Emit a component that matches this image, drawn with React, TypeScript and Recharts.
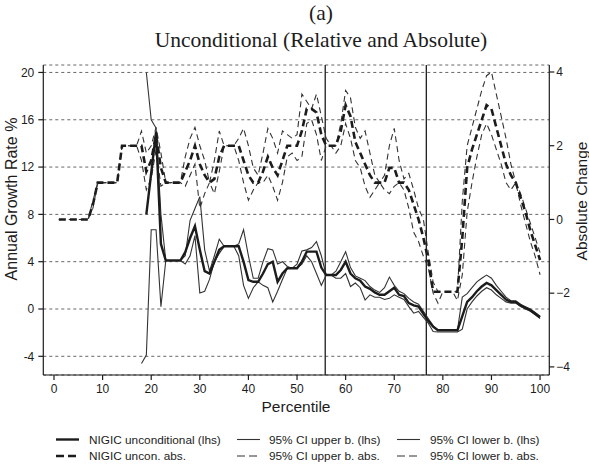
import React from 'react';
import { ComposedChart, Line, XAxis, YAxis, CartesianGrid, ReferenceLine } from 'recharts';

const percentiles = [
  1, 2, 3, 4, 5, 6, 7, 8, 9, 10,
  11, 12, 13, 14, 15, 16, 17, 18, 19, 20,
  21, 22, 23, 24, 25, 26, 27, 28, 29, 30,
  31, 32, 33, 34, 35, 36, 37, 38, 39, 40,
  41, 42, 43, 44, 45, 46, 47, 48, 49, 50,
  51, 52, 53, 54, 55, 56, 57, 58, 59, 60,
  61, 62, 63, 64, 65, 66, 67, 68, 69, 70,
  71, 72, 73, 74, 75, 76, 77, 78, 79, 80,
  81, 82, 83, 84, 85, 86, 87, 88, 89, 90,
  91, 92, 93, 94, 95, 96, 97, 98, 99, 100,
];

const N = null;

// Relative growth (left axis, %)
const nigicUncond = [
  N, N, N, N, N, N, N, N, N, N,
  N, N, N, N, N, N, N, N, 8.0, 11.5,
  15.0, 5.5, 4.1, 4.1, 4.1, 4.1, 4.8, 6.0, 7.0, 5.0,
  3.2, 3.0, 4.0, 5.0, 5.3, 5.3, 5.3, 5.3, 4.0, 2.45,
  2.3, 2.3, 3.0, 3.8, 4.0, 2.3, 3.0, 3.45, 3.45, 3.45,
  4.0, 4.85, 4.85, 4.85, 3.5, 2.87, 2.87, 2.87, 3.3, 4.0,
  3.0, 2.6, 2.4, 1.9, 1.7, 1.4, 1.2, 1.2, 1.5, 1.8,
  1.2, 1.1, 0.5, 0.3, 0.2, -0.4, -1.0, -1.5, -1.8, -1.8,
  -1.8, -1.8, -1.8, -0.6, 0.6, 1.0, 1.5, 1.9, 2.2, 2.0,
  1.6, 1.2, 0.8, 0.6, 0.6, 0.3, 0.1, -0.1, -0.4, -0.7,
];
const ciUpper = [
  N, N, N, N, N, N, N, N, N, N,
  N, N, N, N, N, N, N, N, 20, 16,
  15.3, 8.0, 4.1, 4.1, 4.1, 4.1, 4.5, 7.5, 8.5, 9.5,
  5.0, 3.2, 4.5, 5.9, 5.3, 5.3, 5.3, 5.5, 6.7, 4.5,
  2.6, 2.6, 4.0, 5.1, 5.0, 3.8, 4.0, 3.6, 3.45, 3.8,
  4.9, 5.0, 5.2, 5.7, 4.5, 2.87, 2.87, 3.2, 4.0, 4.85,
  3.5, 2.8, 2.6, 2.4, 1.9, 1.6, 1.4, 1.8, 2.7, 2.0,
  1.5, 1.3, 0.9, 0.6, 0.4, -0.2, -0.8, -1.4, -1.8, -1.8,
  -1.8, -1.8, -1.8, 1.0, 1.3, 1.8, 2.3, 2.6, 2.87, 2.6,
  2.0, 1.5, 1.0, 0.7, 0.7, 0.4, 0.2, 0.0, -0.3, -0.6,
];
const ciLower = [
  N, N, N, N, N, N, N, N, N, N,
  N, N, N, N, N, N, N, -4.6, -3.9, 6.7,
  6.7, 0.2, 4.1, 4.1, 4.1, 4.1, 3.8, 4.5, 6.2, 1.35,
  1.5, 2.5, 4.0, 4.7, 5.3, 5.3, 5.3, 4.5, 2.0, 0.9,
  1.8, 2.3, 2.0, 1.8, 0.6, 1.5, 2.5, 3.45, 3.45, 3.45,
  3.8, 4.5, 4.0, 3.0, 2.0, 2.87, 2.87, 2.6, 2.6, 3.0,
  1.9, 2.2, 1.8, 0.76, 1.2, 1.0, 1.0, 0.8, 0.9, 1.2,
  1.0, 0.8, 0.2, -0.35, -0.2, -0.7, -1.2, -1.9, -1.95, -1.95,
  -1.95, -1.95, -1.95, -1.7, 0.0, 0.6, 1.1, 1.5, 1.8, 1.6,
  1.2, 0.9, 0.6, 0.5, 0.5, 0.2, 0.0, -0.2, -0.5, -0.8,
];

// Absolute change (right axis)
const nigicAbs = [
  0, 0, 0, 0, 0, 0, 0, 0.4, 1, 1,
  1, 1, 1, 2, 2, 2, 2, 2, 1.3, 1.6,
  2.3, 1.4, 1, 1, 1, 1, 1.3, 1.6, 2.0, 1.5,
  1.2, 1.0, 1.1, 1.7, 2, 2, 2, 2, 1.6, 1.2,
  1.0, 1.0, 1.3, 1.7, 1.4, 1.2, 1.6, 2, 2, 2,
  2.4, 3.0, 3.0, 2.9, 2.3, 2, 2, 2, 2.4, 3.1,
  2.8, 2.1, 1.8, 1.5, 1.2, 1, 1, 1, 1.4, 1.4,
  1, 1, 0.8, 0.4, 0.0, -0.5, -1.1, -1.96, -1.96, -1.96,
  -1.96, -1.96, -1.96, -0.5, 1.4, 1.9, 2.3, 2.7, 3.1, 3.0,
  2.5, 2.0, 1.5, 1.2, 1.0, 0.6, 0.2, -0.3, -0.7, -1.1,
];
const ciUpperAbs = [
  0, 0, 0, 0, 0, 0, 0, 0.5, 1, 1,
  1, 1, 1, 2, 2, 2, 2, 2.4, 1.8, 2.0,
  2.5, 1.8, 1, 1, 1, 1, 1.7, 2.2, 2.5, 2.0,
  1.6, 1.0, 1.6, 2.4, 2, 2, 2, 2.2, 2.47, 2.0,
  1.4, 1.2, 1.8, 2.47, 2.2, 1.8, 2.4, 2.3, 2.2, 2.3,
  3.4, 3.2, 3.0, 3.4, 2.8, 2.2, 2.0, 2.0, 2.6, 3.5,
  3.3, 2.5, 2.2, 2.4, 1.8, 1.2, 1.0, 1.2, 2.0, 2.47,
  1.6, 1.1, 1.25, 0.8, 0.3, 0.0, -0.9, -1.7, -1.96, -1.96,
  -1.96, -1.96, -1.96, 0.5, 2.0, 2.5, 3.0, 3.5, 3.9, 4.0,
  3.4, 2.8, 2.2, 1.5, 1.0, 0.7, 0.3, -0.1, -0.5, -0.9,
];
const ciLowerAbs = [
  0, 0, 0, 0, 0, 0, 0, 0.3, 1, 1,
  1, 1, 1, 2, 2, 2, 2, 1.6, 0.8, 1.1,
  1.9, 0.9, 1, 1, 1, 1, 0.9, 1.2, 1.5, 0.3,
  0.7, 1.0, 0.7, 1.3, 2, 2, 2, 1.6, 1.0, 0.52,
  0.8, 1.0, 1.0, 1.2, 0.9, 0.52, 1.0, 1.7, 1.8, 1.6,
  1.7, 2.6, 2.7, 2.3, 1.6, 2.0, 2.0, 1.8, 2.0, 2.6,
  2.2, 1.6, 1.4, 0.9, 0.6, 0.8, 1.0, 0.8, 0.7, 0.9,
  1.0, 0.8, 0.3, -0.35, -0.6, -1.0, -1.3, -2.0, -2.27, -1.96,
  -1.96, -1.96, -2.2, -1.5, 0.2, 1.0, 1.7, 2.3, 2.6, 2.3,
  1.9, 1.5, 1.0, 0.8, 1.0, 0.4, -0.1, -0.6, -1.0, -1.5,
];

const xTicks = [0, 10, 20, 30, 40, 50, 60, 70, 80, 90, 100];
const leftTicks = [-4, 0, 4, 8, 12, 16, 20];
const rightTicks = [-4, -2, 0, 2, 4];
const dividers = [55.8, 76.6];

const legendRow1 = ['NIGIC unconditional (lhs)', '95% CI upper b. (lhs)', '95% CI lower b. (lhs)'];
const legendRow2 = ['NIGIC uncon. abs.', '95% CI upper b. abs.', '95% CI lower b. abs.'];

const data = percentiles.map((p, i) => ({
  p,
  main: nigicUncond[i],
  up: ciUpper[i],
  lo: ciLower[i],
  mainAbs: nigicAbs[i],
  upAbs: ciUpperAbs[i],
  loAbs: ciLowerAbs[i],
}));

const SANS = '"Liberation Sans", Arial, sans-serif';
const SERIF = '"Liberation Serif", "Times New Roman", serif';
const INK = '#1c1c1c';

const lineStyles = [
  { w: 2.4, dash: undefined as string | undefined },
  { w: 1.1, dash: undefined as string | undefined },
  { w: 1.1, dash: undefined as string | undefined },
];
const dashStyles = [
  { w: 2.6, dash: '7 4' },
  { w: 1.1, dash: '6 4' },
  { w: 1.1, dash: '6 4' },
];

const colLineX = [56, 237, 397];
const colTextX = [89, 269, 430];

export default function App() {
  return (
    <div style={{ position: 'absolute', left: 0, top: 0, width: 589, height: 468, background: '#fff' }}>
      <ComposedChart
        width={589}
        height={468}
        data={data}
        margin={{ top: 65, right: 0, bottom: 63, left: 0 }}
      >
        <CartesianGrid
          yAxisId="left"
          vertical={false}
          horizontal
          stroke="#555"
          strokeWidth={0.9}
          strokeDasharray="3 3"
        />
        <XAxis
          dataKey="p"
          type="number"
          domain={[-2.2, 101.9]}
          allowDataOverflow
          ticks={xTicks}
          height={30}
          tickSize={5}
          tickMargin={4}
          stroke={INK}
          strokeWidth={1.2}
          tick={{ fill: INK, fontSize: 12, fontFamily: SANS }}
        />
        <YAxis
          yAxisId="left"
          domain={[-5.58, 20.63]}
          allowDataOverflow
          ticks={leftTicks}
          width={43.3}
          tickSize={5}
          tickMargin={4}
          stroke={INK}
          strokeWidth={1.2}
          tick={{ fill: INK, fontSize: 12, fontFamily: SANS }}
        />
        <YAxis
          yAxisId="right"
          orientation="right"
          domain={[-4.22, 4.19]}
          allowDataOverflow
          ticks={rightTicks}
          width={39.7}
          tickSize={5}
          tickMargin={2}
          stroke={INK}
          strokeWidth={1.2}
          tickFormatter={(v: number) => (v < 0 ? '\u2212' + Math.abs(v) : String(v))}
          tick={{ fill: INK, fontSize: 12, fontFamily: SANS }}
        />
        {dividers.map((d) => (
          <ReferenceLine key={d} x={d} yAxisId="left" stroke={INK} strokeWidth={1.3} />
        ))}
        <Line yAxisId="right" dataKey="upAbs" stroke="#333" strokeWidth={dashStyles[1].w} strokeDasharray={dashStyles[1].dash} dot={false} isAnimationActive={false} />
        <Line yAxisId="right" dataKey="loAbs" stroke="#333" strokeWidth={dashStyles[2].w} strokeDasharray={dashStyles[2].dash} dot={false} isAnimationActive={false} />
        <Line yAxisId="right" dataKey="mainAbs" stroke={INK} strokeWidth={dashStyles[0].w} strokeDasharray={dashStyles[0].dash} dot={false} isAnimationActive={false} />
        <Line yAxisId="left" dataKey="up" stroke="#333" strokeWidth={lineStyles[1].w} dot={false} isAnimationActive={false} />
        <Line yAxisId="left" dataKey="lo" stroke="#333" strokeWidth={lineStyles[2].w} dot={false} isAnimationActive={false} />
        <Line yAxisId="left" dataKey="main" stroke={INK} strokeWidth={lineStyles[0].w} dot={false} isAnimationActive={false} />
      </ComposedChart>

      <svg width={589} height={468} style={{ position: 'absolute', left: 0, top: 0, pointerEvents: 'none' }}>
        <text x={321} y={20} textAnchor="middle" fontFamily={SERIF} fontSize={21.5} fill={INK}>(a)</text>
        <text x={321} y={46.5} textAnchor="middle" fontFamily={SERIF} fontSize={21.5} fill={INK}>
          Unconditional (Relative and Absolute)
        </text>
        <text
          x={0}
          y={0}
          transform="translate(17,199) rotate(-90)"
          textAnchor="middle"
          fontFamily={SANS}
          fontSize={16}
          fill={INK}
        >
          Annual Growth Rate %
        </text>
        <text
          x={0}
          y={0}
          transform="translate(587,201) rotate(-90)"
          textAnchor="middle"
          fontFamily={SANS}
          fontSize={15.5}
          fill={INK}
        >
          Absolute Change
        </text>
        <text x={296} y={412} textAnchor="middle" fontFamily={SANS} fontSize={15.5} fill={INK}>
          Percentile
        </text>
        {legendRow1.map((label, i) => (
          <g key={label}>
            <line
              x1={colLineX[i]}
              x2={colLineX[i] + 23}
              y1={439.5}
              y2={439.5}
              stroke={i === 0 ? INK : '#333'}
              strokeWidth={lineStyles[i].w}
            />
            <text x={colTextX[i]} y={443.5} fontFamily={SANS} fontSize={11.8} fill={INK}>{label}</text>
          </g>
        ))}
        {legendRow2.map((label, i) => (
          <g key={label}>
            <line
              x1={colLineX[i]}
              x2={colLineX[i] + 23}
              y1={456}
              y2={456}
              stroke={i === 0 ? INK : '#333'}
              strokeWidth={dashStyles[i].w}
              strokeDasharray={i === 0 ? '8 4' : '8 4'}
            />
            <text x={colTextX[i]} y={460} fontFamily={SANS} fontSize={11.8} fill={INK}>{label}</text>
          </g>
        ))}
      </svg>
    </div>
  );
}
